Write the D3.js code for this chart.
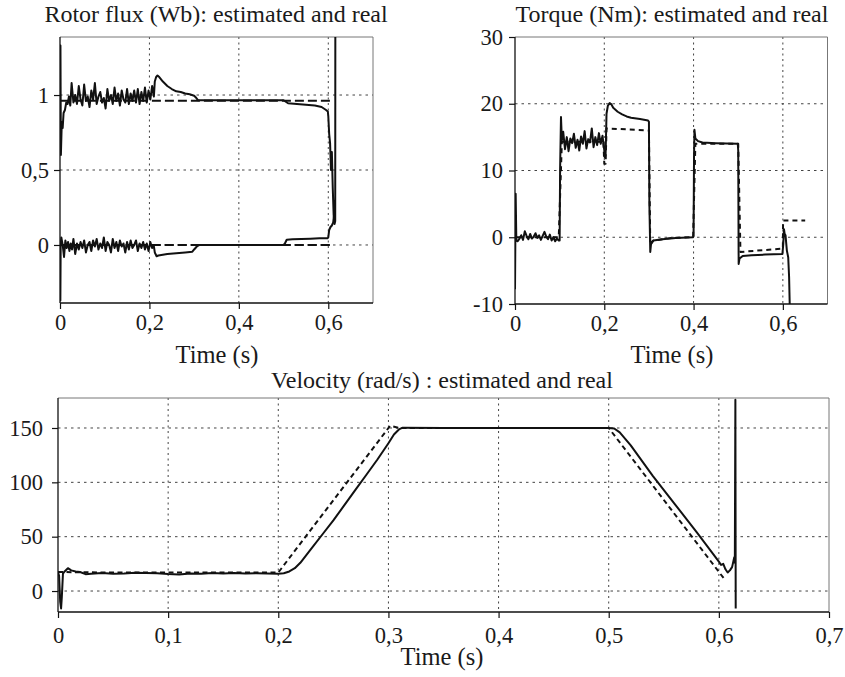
<!DOCTYPE html>
<html>
<head>
<meta charset="utf-8">
<script src="https://cdn.jsdelivr.net/npm/d3@7"></script>
<style>
  body { margin: 0; background: #fff; }
  text { font-family: "Liberation Serif", "Times New Roman", serif; fill: #1a1a1a; }
</style>
</head>
<body>
<svg id="chart" width="845" height="677"></svg>
<script>
// ---- data ----
var dt = 0.004;   // sample step of the noisy stretches (s)

// tick values
var fluxXTicks = [0, 0.2, 0.4, 0.6];
var fluxYTicks = [0, 0.5, 1];
var torqueXTicks = [0, 0.2, 0.4, 0.6];
var torqueYTicks = [-10, 0, 10, 20, 30];
var velXTicks = [0, 0.1, 0.2, 0.3, 0.4, 0.5, 0.6, 0.7];
var velYTicks = [0, 50, 100, 150];

// rotor flux, upper (d) component, estimated
var fluxDStart = [[0, 0.6], [0.001, 1.33], [0.002, 0.6], [0.004, 0.82], [0.006, 0.78], [0.008, 0.88], [0.011, 0.9],
  [0.014, 0.95], [0.017, 0.94], [0.02, 0.99], [0.023, 0.93], [0.026, 1.08]];
var fluxDNoise = [0.95, 1.0, 0.94, 1.06, 0.97, 0.93, 1.07, 0.96, 0.99, 0.92, 1.03, 0.97, 1.08, 0.94, 0.99, 1.02,
  0.95, 0.98, 0.91, 1.04, 0.96, 1.0, 0.94, 1.05, 0.96, 1.01, 0.93, 1.03, 0.97, 0.95, 1.04, 0.94, 1.01, 0.96,
  1.03, 0.95, 1.04, 0.94, 1.02, 0.96, 1.05, 0.95, 1.03, 0.97, 1.06];   // from t = 0.03
var fluxDEnd = [[0.21, 0.99], [0.212, 1.09], [0.215, 1.12], [0.218, 1.13], [0.222, 1.12], [0.23, 1.09], [0.24, 1.06],
  [0.25, 1.04], [0.26, 1.025], [0.27, 1.02], [0.28, 1.01], [0.29, 1.005], [0.3, 0.995], [0.305, 0.98], [0.309, 0.965],
  [0.4, 0.965], [0.45, 0.966], [0.5, 0.965], [0.505, 0.955], [0.51, 0.945], [0.53, 0.94], [0.55, 0.935], [0.57, 0.93],
  [0.585, 0.92], [0.595, 0.9], [0.599, 0.89], [0.6, 0.86], [0.602, 0.74], [0.604, 0.68], [0.606, 0.5], [0.608, 0.62],
  [0.61, 0.38], [0.612, 0.2], [0.614, 0.14], [0.6155, 0.16], [0.6158, 1.6]];

// rotor flux, lower (q) component, estimated
var fluxQStart = [[0, 0], [0.0008, -0.37], [0.0015, 0], [0.003, 0.05], [0.006, 0.0], [0.009, -0.08], [0.012, 0.03],
  [0.015, -0.02], [0.018, 0.02], [0.021, -0.04], [0.024, 0.01], [0.027, -0.03]];
var fluxQNoise = [0.04, -0.06, 0.01, -0.03, 0.02, -0.02, 0.03, -0.05, 0.0, 0.02, -0.04, 0.03, -0.01, 0.04, -0.03,
  0.01, -0.02, 0.05, -0.04, 0.02, 0.0, -0.05, 0.04, -0.02, 0.02, -0.04, 0.03, -0.01, 0.01, -0.05, 0.02, -0.03,
  0.03, -0.02, 0.0, 0.03, -0.04, 0.01, -0.02, 0.02, -0.03, 0.01, -0.04, 0.02, -0.02];   // from t = 0.03
var fluxQEnd = [[0.21, -0.01], [0.212, -0.05], [0.216, -0.075], [0.22, -0.07], [0.24, -0.06], [0.26, -0.055],
  [0.28, -0.05], [0.296, -0.045], [0.3, -0.03], [0.306, -0.01], [0.312, 0], [0.4, 0], [0.5, 0], [0.503, 0.01],
  [0.507, 0.035], [0.52, 0.038], [0.54, 0.04], [0.56, 0.042], [0.58, 0.045], [0.598, 0.045], [0.6, 0.05],
  [0.602, 0.1], [0.605, 0.12], [0.608, 0.13], [0.611, 0.15], [0.613, 0.2], [0.6145, 0.3]];

// rotor flux, real (dashed)
var fluxDReal = [[0.002, 0.962], [0.611, 0.962]];
var fluxQReal = [[0.002, 0], [0.611, 0]];

// torque, estimated
var torqueStart = [[0, -7.8], [0.0015, 6.5], [0.003, -0.5]];
var torqueNoise1 = [-0.6, -0.2, 0.3, -0.4, 0.9, 0.2, -0.3, 0.5, -0.2, 0.1, 0.6, -0.1, 0.3, -0.4, 0.2, 0.8,
  0.1, -0.3, 0.4, -0.5, 0.0, -0.6, -0.2, -0.5];   // from t = 0.006
var torqueStep = [[0.1, -0.5], [0.101, 10], [0.103, 18], [0.105, 14.5]];
var torqueNoise2 = [15.8, 13.2, 15.0, 12.9, 14.8, 14.1, 15.5, 13.4, 14.6, 13.0, 15.1, 14.0, 15.9, 13.3, 14.7,
  14.2, 16.3, 13.5, 15.0, 13.8, 15.6, 14.0, 15.2];   // from t = 0.108
var torqueEnd = [[0.2, 13], [0.201, 12], [0.203, 12.5], [0.205, 18.5], [0.208, 19.7], [0.212, 20.1], [0.216, 19.9],
  [0.22, 19.4], [0.23, 18.8], [0.24, 18.4], [0.25, 18.1], [0.26, 17.9], [0.28, 17.7], [0.298, 17.5], [0.3, 17.3],
  [0.301, 5], [0.303, -2.2], [0.305, -0.8], [0.31, -0.5], [0.33, -0.3], [0.36, -0.1], [0.399, 0], [0.4, 0.2],
  [0.401, 12], [0.402, 16.1], [0.404, 14.8], [0.41, 14.4], [0.42, 14.2], [0.45, 14.1], [0.499, 14.0], [0.5, 13],
  [0.501, -4], [0.503, -3.2], [0.51, -2.8], [0.53, -2.7], [0.56, -2.6], [0.599, -2.5], [0.601, -1], [0.6025, 1.2],
  [0.604, 0.5], [0.606, 0.3], [0.607, -0.5], [0.609, -2], [0.612, -3], [0.614, -6], [0.616, -12]];

// torque, real (dashed)
var torqueReal = [[0.004, 0], [0.098, 0], [0.105, 14.3], [0.198, 14.3], [0.2, 11], [0.203, 11], [0.205, 16.3],
  [0.3, 16], [0.303, -1.2], [0.31, -0.5], [0.35, -0.1], [0.399, 0], [0.404, 14], [0.5, 14], [0.505, -2.2],
  [0.6, -1.7], [0.6005, 2.5], [0.65, 2.5]];

// velocity, estimated
var velEst = [[0, 17.5], [0.001, 14], [0.002, -10], [0.0028, -16], [0.0035, -5], [0.0045, 16], [0.006, 18],
  [0.009, 21], [0.012, 19], [0.016, 18], [0.02, 17.5], [0.025, 15.5], [0.03, 15.8], [0.04, 16.5], [0.05, 16],
  [0.06, 16.2], [0.07, 16.8], [0.08, 16.5], [0.09, 16.3], [0.1, 15.6], [0.11, 15.3], [0.12, 16.2], [0.13, 16],
  [0.14, 16.5], [0.15, 16.1], [0.16, 16.6], [0.17, 16.2], [0.18, 16.4], [0.19, 16.1], [0.2, 16], [0.205, 16.3],
  [0.21, 18], [0.215, 21], [0.22, 26], [0.23, 39], [0.24, 52], [0.25, 65], [0.26, 79], [0.27, 93], [0.28, 107],
  [0.29, 121], [0.3, 136], [0.305, 144], [0.31, 149], [0.313, 150.3], [0.35, 150], [0.4, 150], [0.45, 150],
  [0.5, 150], [0.505, 149.5], [0.51, 146], [0.52, 134], [0.54, 106], [0.56, 80], [0.58, 54], [0.6, 27],
  [0.602, 24], [0.604, 25], [0.606, 20], [0.608, 17], [0.61, 19], [0.612, 22], [0.614, 31], [0.6145, 26],
  [0.615, 176], [0.6153, -16]];

// velocity, real (dashed)
var velReal = [[0, 17.5], [0.05, 17], [0.1, 17], [0.15, 17], [0.2, 17], [0.3015, 152], [0.31, 150], [0.4, 150],
  [0.5, 150], [0.605, 11]];

// ---- assemble series ----
function sampled(values, t0) {
  return values.map(function(v, i) { return [t0 + i * dt, v]; });
}
var fluxD = fluxDStart.concat(sampled(fluxDNoise, 0.03), fluxDEnd);
var fluxQ = fluxQStart.concat(sampled(fluxQNoise, 0.03), fluxQEnd);
var torqueEst = torqueStart.concat(sampled(torqueNoise1, 0.006), torqueStep, sampled(torqueNoise2, 0.108), torqueEnd);

function fmt(d) { return String(d).replace(".", ","); }

var serif = '"Liberation Serif", "Times New Roman", serif';
var svg = d3.select("#chart");

function panel(p) {
  var x = d3.scaleLinear().domain([0, 0.7]).range([p.left, p.right]);
  var y = d3.scaleLinear().domain(p.yDomain).range([p.bottom, p.top]);
  var g = svg.append("g");

  g.append("clipPath").attr("id", p.id + "-clip")
    .append("rect").attr("x", p.left).attr("y", p.top)
    .attr("width", p.right - p.left).attr("height", p.bottom - p.top);

  // grid
  g.selectAll(".vg").data(p.xTicks.filter(function(d) { return d > 0 && d < 0.7; }))
    .enter().append("line")
    .attr("x1", function(d) { return x(d); }).attr("x2", function(d) { return x(d); })
    .attr("y1", p.top).attr("y2", p.bottom)
    .attr("stroke", "#444").attr("stroke-width", 1).attr("stroke-dasharray", "2,3.5");
  g.selectAll(".hg").data(p.yTicks.filter(function(d) { return y(d) > p.top + 1 && y(d) < p.bottom - 1; }))
    .enter().append("line")
    .attr("y1", function(d) { return y(d); }).attr("y2", function(d) { return y(d); })
    .attr("x1", p.left).attr("x2", p.right)
    .attr("stroke", "#444").attr("stroke-width", 1).attr("stroke-dasharray", "2.5,4");

  // frame
  g.append("line").attr("x1", p.left).attr("x2", p.right).attr("y1", p.top).attr("y2", p.top)
    .attr("stroke", "#777").attr("stroke-width", 1);
  g.append("line").attr("x1", p.right).attr("x2", p.right).attr("y1", p.top).attr("y2", p.bottom)
    .attr("stroke", "#777").attr("stroke-width", 1);

  // axes
  var ax = g.append("g").attr("transform", "translate(0," + p.bottom + ")")
    .call(d3.axisBottom(x).tickValues(p.xTicks).tickFormat(fmt).tickSize(6).tickPadding(p.xPad));
  var ay = g.append("g").attr("transform", "translate(" + p.left + ",0)")
    .call(d3.axisLeft(y).tickValues(p.yTicks).tickFormat(fmt).tickSize(6).tickPadding(p.yPad));
  [ax, ay].forEach(function(a) {
    a.attr("font-family", serif).attr("font-size", null);
    a.select(".domain").attr("stroke", "#111").attr("stroke-width", 1.3);
    a.selectAll(".tick line").attr("stroke", "#111").attr("stroke-width", 1.2);
    a.selectAll("text").style("font-family", serif).style("font-size", "22.5px").attr("fill", "#1a1a1a");
  });
  ax.select(".domain").attr("d", "M" + p.left + ",0H" + p.right);
  ay.select(".domain").attr("d", "M0," + p.top + "V" + p.bottom);

  var line = d3.line().x(function(d) { return x(d[0]); }).y(function(d) { return y(d[1]); });
  var lines = g.append("g").attr("clip-path", "url(#" + p.id + "-clip)");
  p.series.forEach(function(s) {
    lines.append("path").datum(s.data)
      .attr("fill", "none").attr("stroke", "#111")
      .attr("stroke-width", s.width)
      .attr("stroke-linejoin", "round")
      .attr("stroke-dasharray", s.dash || null)
      .attr("d", line);
  });

  svg.append("text").attr("x", p.titleX).attr("y", p.titleY).attr("text-anchor", "middle")
    .style("font-size", "24px").text(p.title);
  svg.append("text").attr("x", p.labelX).attr("y", p.labelY).attr("text-anchor", "middle")
    .style("font-size", "24.5px").text("Time (s)");
}

panel({
  id: "flux", left: 60, right: 373, top: 37, bottom: 303, yDomain: [-0.387, 1.387],
  xTicks: fluxXTicks, yTicks: fluxYTicks, xPad: 5, yPad: 5,
  title: "Rotor flux (Wb): estimated and real", titleX: 216, titleY: 22,
  labelX: 217, labelY: 363,
  series: [
    { data: fluxDReal, width: 2, dash: "9,4" },
    { data: fluxQReal, width: 2, dash: "9,4" },
    { data: fluxD, width: 2 },
    { data: fluxQ, width: 2 }
  ]
});

panel({
  id: "torque", left: 515, right: 827.5, top: 37, bottom: 304, yDomain: [-10, 30],
  xTicks: torqueXTicks, yTicks: torqueYTicks, xPad: 5, yPad: 6,
  title: "Torque (Nm): estimated and real", titleX: 672, titleY: 22,
  labelX: 672, labelY: 363,
  series: [
    { data: torqueReal, width: 2, dash: "5,4" },
    { data: torqueEst, width: 2 }
  ]
});

panel({
  id: "vel", left: 58, right: 829, top: 398, bottom: 612, yDomain: [-19.3, 177.6],
  xTicks: velXTicks, yTicks: velYTicks, xPad: 9, yPad: 9,
  title: "Velocity (rad/s) : estimated and real", titleX: 442, titleY: 388,
  labelX: 442, labelY: 665,
  series: [
    { data: velReal, width: 2, dash: "5,3.5" },
    { data: velEst, width: 2 }
  ]
});
</script>
</body>
</html>
